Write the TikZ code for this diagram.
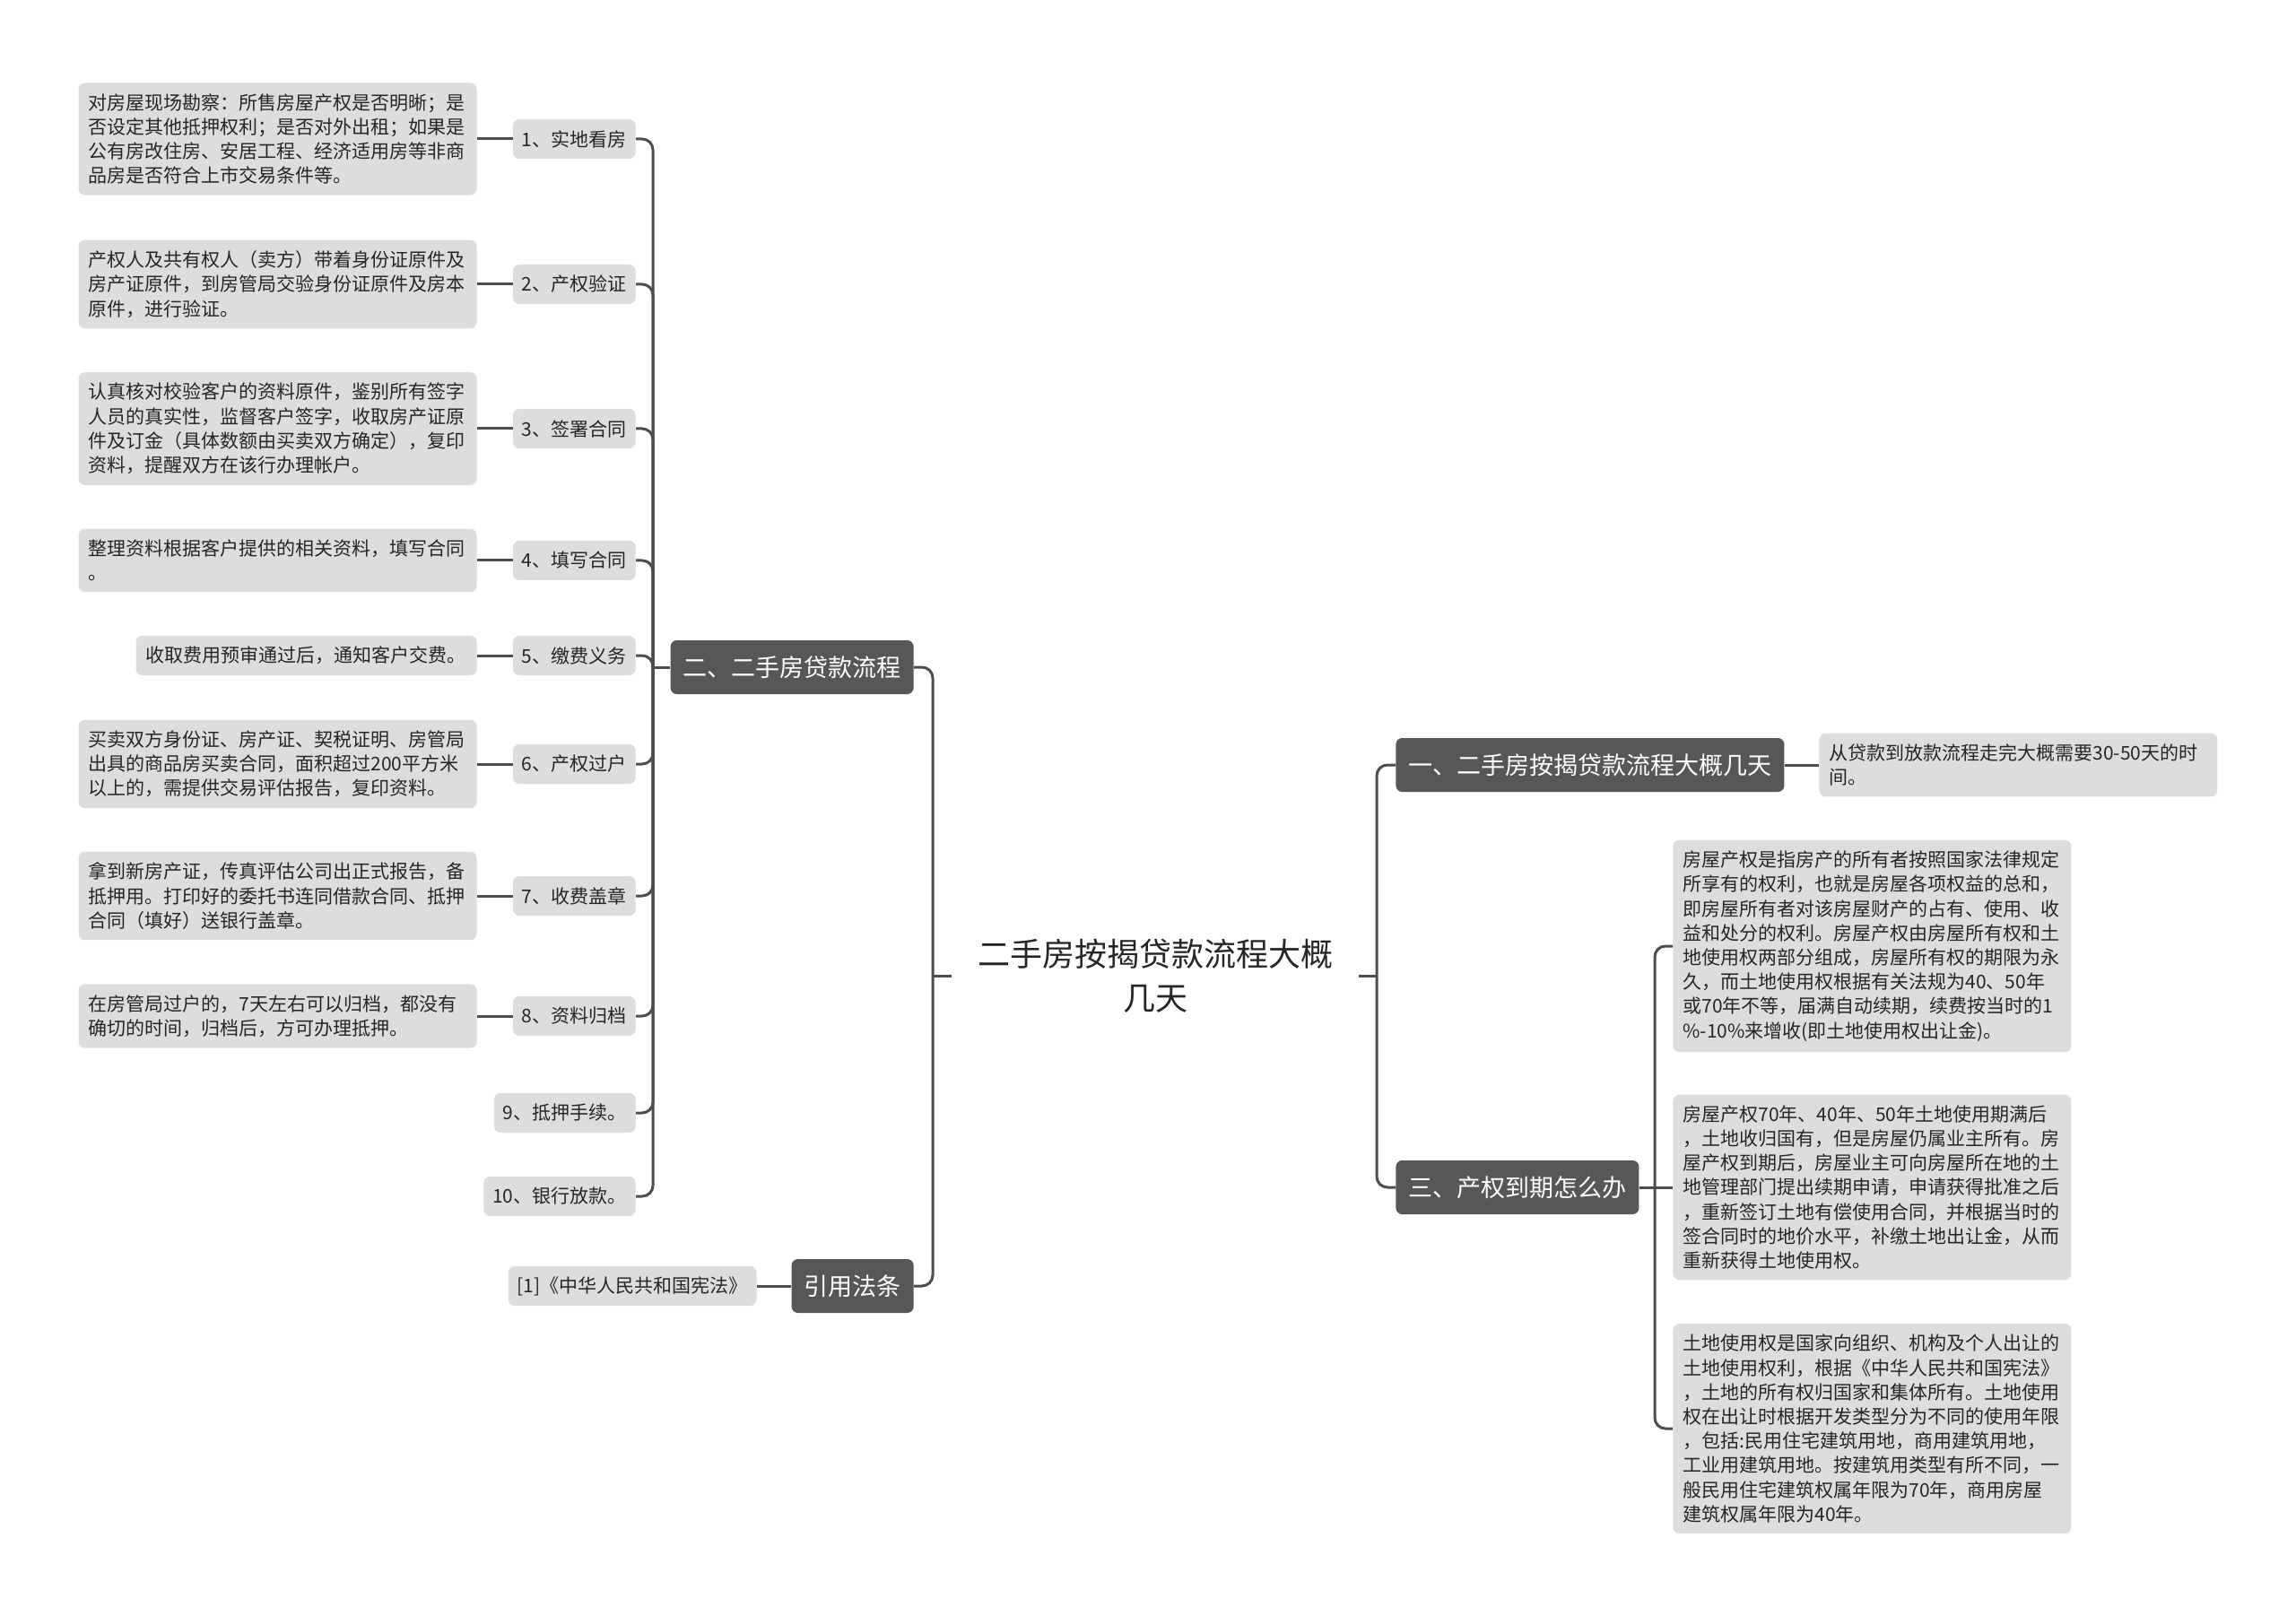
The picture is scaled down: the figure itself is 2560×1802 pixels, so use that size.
\documentclass[tikz,border=0pt]{standalone}
\usepackage{fontspec}
\setmainfont{Noto Sans CJK SC}

\definecolor{leafgray}{HTML}{DDDDDD}
\definecolor{branchgray}{HTML}{575757}
\definecolor{linkgray}{HTML}{4D4D4D}

\begin{document}
\begin{tikzpicture}[
  x=0.5pt, y=-0.5pt,
  root/.style={align=center, text width=198pt, inner xsep=14.5pt, text=black!85, font=\fontsize{18pt}{24.5pt}\selectfont},
  branch/.style={fill=branchgray, text=white, rounded corners=3.5pt, minimum height=30pt, inner xsep=7pt, font=\fontsize{13.5pt}{16pt}\selectfont},
  itembox/.style={fill=leafgray, rounded corners=3.5pt, minimum height=22pt, inner xsep=5pt, text=black!85, font=\fontsize{10.5pt}{13.6pt}\selectfont},
  note/.style={fill=leafgray, rounded corners=3.5pt, align=left, text width=211pt, inner xsep=5.5pt, inner ysep=6pt, text=black!85, font=\fontsize{10.5pt}{13.6pt}\selectfont},
  link/.style={draw=linkgray, line width=1.5pt, rounded corners=6pt}
]

\fill[white] (0,0) rectangle (2560,1802);

% centre
\node[root] (root) at (1288,1088) {二手房按揭贷款流程大概\\几天};
\coordinate (jl) at (1040,1088);
\coordinate (jr) at (1535,1088);

% left: loan procedure
\node[branch, anchor=east] (br2) at (1019,744) {二、二手房贷款流程};
\coordinate (j2) at (728,744);

\node[itembox, anchor=east] (s1) at (709,155) {1、实地看房};
\node[itembox, anchor=east] (s2) at (709,317) {2、产权验证};
\node[itembox, anchor=east] (s3) at (709,478) {3、签署合同};
\node[itembox, anchor=east] (s4) at (709,625) {4、填写合同};
\node[itembox, anchor=east] (s5) at (709,731) {5、缴费义务};
\node[itembox, anchor=east] (s6) at (709,852) {6、产权过户};
\node[itembox, anchor=east] (s7) at (709,999) {7、收费盖章};
\node[itembox, anchor=east] (s8) at (709,1133) {8、资料归档};
\node[itembox, anchor=east] (s9) at (709,1241) {9、抵押手续。};
\node[itembox, anchor=east] (s10) at (709,1334) {10、银行放款。};

\node[note, anchor=east] (d1) at (532,155)
  {对房屋现场勘察：所售房屋产权是否明晰；是\\否设定其他抵押权利；是否对外出租；如果是\\公有房改住房、安居工程、经济适用房等非商\\品房是否符合上市交易条件等。};
\node[note, anchor=east] (d2) at (532,317)
  {产权人及共有权人（卖方）带着身份证原件及\\房产证原件，到房管局交验身份证原件及房本\\原件，进行验证。};
\node[note, anchor=east] (d3) at (532,478)
  {认真核对校验客户的资料原件，鉴别所有签字\\人员的真实性，监督客户签字，收取房产证原\\件及订金（具体数额由买卖双方确定），复印\\资料，提醒双方在该行办理帐户。};
\node[note, anchor=east] (d4) at (532,625)
  {整理资料根据客户提供的相关资料，填写合同\\。};
\node[note, anchor=east, text width=179pt] (d5) at (532,731)
  {收取费用预审通过后，通知客户交费。};
\node[note, anchor=east] (d6) at (532,852)
  {买卖双方身份证、房产证、契税证明、房管局\\出具的商品房买卖合同，面积超过200平方米\\以上的，需提供交易评估报告，复印资料。};
\node[note, anchor=east] (d7) at (532,999)
  {拿到新房产证，传真评估公司出正式报告，备\\抵押用。打印好的委托书连同借款合同、抵押\\合同（填好）送银行盖章。};
\node[note, anchor=east] (d8) at (532,1133)
  {在房管局过户的，7天左右可以归档，都没有\\确切的时间，归档后，方可办理抵押。};

\draw[link] (br2.west) -- (j2);
\draw[link] (j2) |- (s1.east);
\draw[link] (j2) |- (s2.east);
\draw[link] (j2) |- (s3.east);
\draw[link] (j2) |- (s4.east);
\draw[link] (j2) |- (s5.east);
\draw[link] (j2) |- (s6.east);
\draw[link] (j2) |- (s7.east);
\draw[link] (j2) |- (s8.east);
\draw[link] (j2) |- (s9.east);
\draw[link] (j2) |- (s10.east);

\draw[link] (d1.east) -- (s1.west);
\draw[link] (d2.east) -- (s2.west);
\draw[link] (d3.east) -- (s3.west);
\draw[link] (d4.east) -- (s4.west);
\draw[link] (d5.east) -- (s5.west);
\draw[link] (d6.east) -- (s6.west);
\draw[link] (d7.east) -- (s7.west);
\draw[link] (d8.east) -- (s8.west);

% left: cited law
\node[branch, anchor=east] (br4) at (1019,1434) {引用法条};
\node[itembox, anchor=east] (law) at (844,1434) {[1]《中华人民共和国宪法》};
\draw[link] (br4.west) -- (law.east);

\draw[link] (root.west) -- (jl);
\draw[link] (jl) |- (br2.east);
\draw[link] (jl) |- (br4.east);

% right: how many days
\node[branch, anchor=west] (br1) at (1556,853) {一、二手房按揭贷款流程大概几天};
\node[note, anchor=west] (days) at (2028,853)
  {从贷款到放款流程走完大概需要30-50天的时\\间。};
\draw[link] (br1.east) -- (days.west);

% right: expiry of property right
\node[branch, anchor=west] (br3) at (1556,1324) {三、产权到期怎么办};
\coordinate (j3) at (1845,1324);

\node[note, anchor=west] (e1) at (1865,1055)
  {房屋产权是指房产的所有者按照国家法律规定\\所享有的权利，也就是房屋各项权益的总和，\\即房屋所有者对该房屋财产的占有、使用、收\\益和处分的权利。房屋产权由房屋所有权和土\\地使用权两部分组成，房屋所有权的期限为永\\久，而土地使用权根据有关法规为40、50年\\或70年不等，届满自动续期，续费按当时的1\\\%-10\%来增收(即土地使用权出让金)。};
\node[note, anchor=west] (e2) at (1865,1324)
  {房屋产权70年、40年、50年土地使用期满后\\，土地收归国有，但是房屋仍属业主所有。房\\屋产权到期后，房屋业主可向房屋所在地的土\\地管理部门提出续期申请，申请获得批准之后\\，重新签订土地有偿使用合同，并根据当时的\\签合同时的地价水平，补缴土地出让金，从而\\重新获得土地使用权。};
\node[note, anchor=west] (e3) at (1865,1593)
  {土地使用权是国家向组织、机构及个人出让的\\土地使用权利，根据《中华人民共和国宪法》\\，土地的所有权归国家和集体所有。土地使用\\权在出让时根据开发类型分为不同的使用年限\\，包括:民用住宅建筑用地，商用建筑用地，\\工业用建筑用地。按建筑用类型有所不同，一\\般民用住宅建筑权属年限为70年，商用房屋\\建筑权属年限为40年。};

\draw[link] (br3.east) -- (e2.west);
\draw[link] (j3) |- (e1.west);
\draw[link] (j3) |- (e3.west);

\draw[link] (root.east) -- (jr);
\draw[link] (jr) |- (br1.west);
\draw[link] (jr) |- (br3.west);

\end{tikzpicture}
\end{document}
